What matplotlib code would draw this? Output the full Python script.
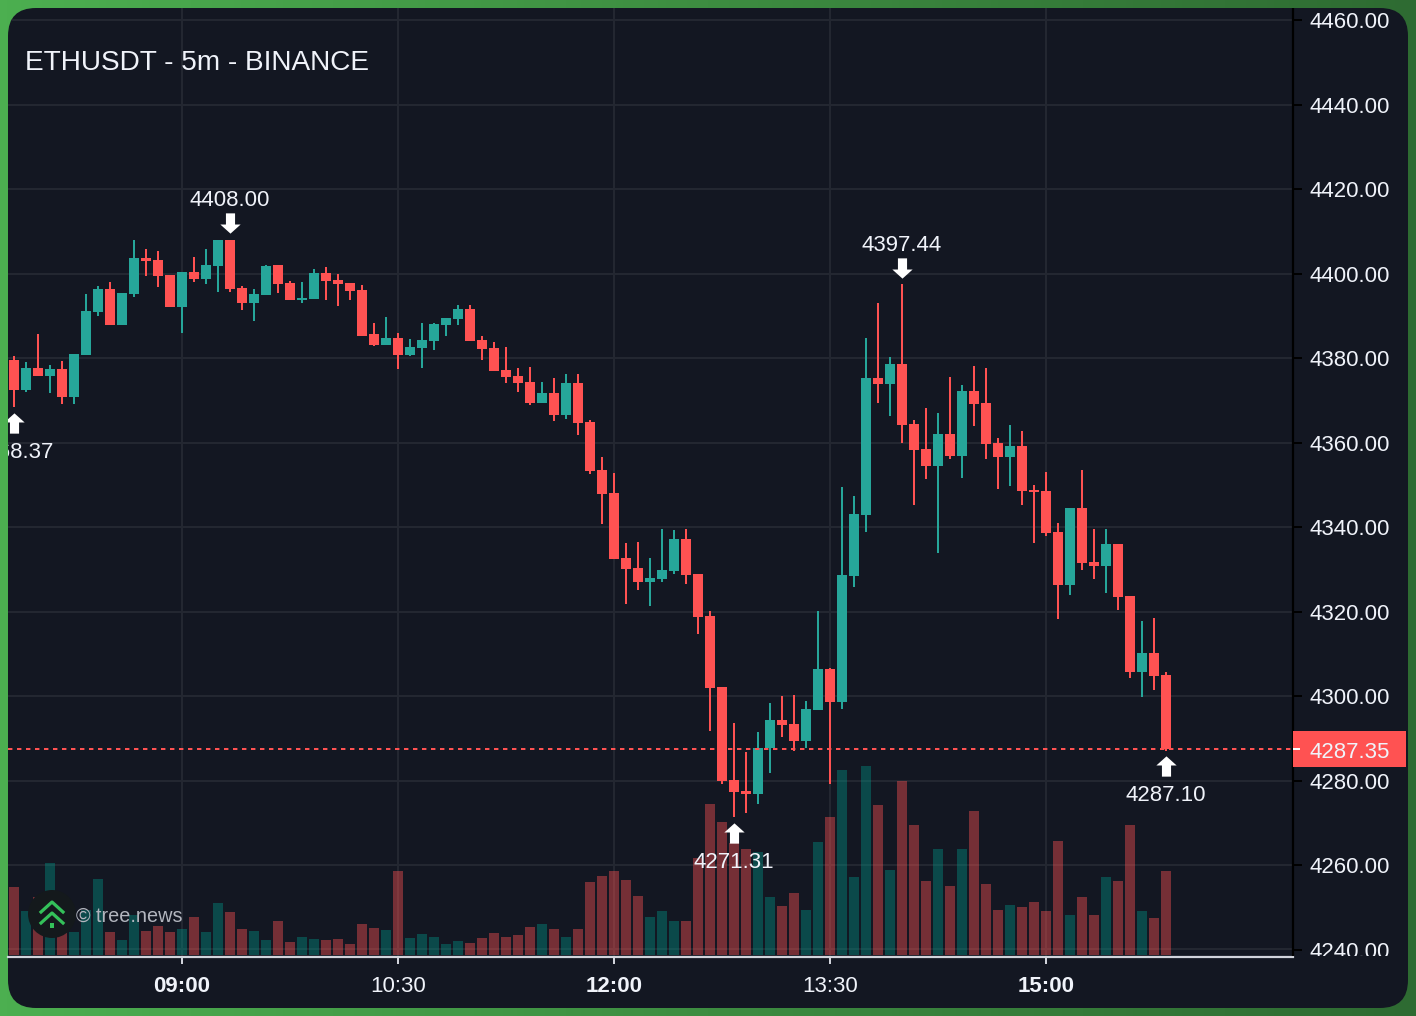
import numpy as np
import matplotlib
matplotlib.use('Agg')
import matplotlib.pyplot as plt
from matplotlib.patches import FancyBboxPatch, Circle, Rectangle
from matplotlib.path import Path
from matplotlib.transforms import Affine2D

plt.rcParams['font.family'] = 'Liberation Sans'

title = 'ETHUSDT - 5m - BINANCE'
watermark = '\u00a9 tree.news'

opens = [4379.5, 4372.4, 4377.6, 4375.7, 4377.4, 4370.8, 4380.7, 4390.9, 4396.3, 4387.8,
         4395.1, 4403.7, 4403.2, 4399.6, 4392.1, 4400.4, 4398.7, 4401.8, 4408.0, 4396.6,
         4393.0, 4394.9, 4402.0, 4397.8, 4393.7, 4394.0, 4400.1, 4398.5, 4397.8, 4396.1,
         4385.7, 4383.1, 4384.7, 4380.7, 4382.4, 4384.0, 4387.8, 4389.2, 4391.6, 4384.3,
         4382.4, 4377.2, 4375.7, 4374.3, 4369.3, 4371.7, 4366.5, 4374.1, 4364.8, 4353.5,
         4348.0, 4332.7, 4330.3, 4327.0, 4327.7, 4329.6, 4337.1, 4328.9, 4318.9, 4302.1,
         4280.1, 4277.5, 4276.8, 4287.7, 4294.3, 4293.4, 4289.4, 4296.7, 4306.4, 4298.6,
         4328.4, 4342.8, 4375.3, 4373.8, 4378.6, 4364.4, 4358.5, 4354.4, 4362.0, 4356.8,
         4372.2, 4369.3, 4359.9, 4356.6, 4359.2, 4348.8, 4348.5, 4338.8, 4326.3, 4344.5,
         4331.7, 4330.8, 4336.0, 4323.7, 4305.7, 4310.2, 4304.9]
closes = [4372.4, 4377.6, 4375.7, 4377.4, 4370.8, 4380.9, 4391.1, 4396.3, 4387.8, 4395.4,
          4403.7, 4403.0, 4399.4, 4392.1, 4400.4, 4398.7, 4402.0, 4407.9, 4396.3, 4393.0,
          4395.1, 4401.8, 4397.5, 4393.7, 4394.2, 4400.1, 4398.2, 4397.5, 4395.9, 4385.2,
          4383.1, 4384.7, 4380.7, 4382.6, 4384.3, 4388.0, 4389.5, 4391.6, 4384.0, 4382.1,
          4376.9, 4375.5, 4374.1, 4369.3, 4371.7, 4366.5, 4374.1, 4364.6, 4353.3, 4347.8,
          4332.4, 4330.1, 4327.0, 4327.9, 4329.8, 4337.1, 4328.6, 4318.7, 4301.9, 4279.9,
          4277.3, 4276.8, 4287.7, 4294.3, 4293.1, 4289.4, 4296.9, 4306.4, 4298.6, 4328.6,
          4343.1, 4375.3, 4373.8, 4378.6, 4364.1, 4358.2, 4354.4, 4362.0, 4356.8, 4372.2,
          4369.1, 4359.6, 4356.6, 4359.2, 4348.5, 4348.3, 4338.6, 4326.3, 4344.5, 4331.5,
          4330.8, 4336.0, 4323.4, 4305.7, 4310.2, 4304.7, 4287.35]
highs = [4380.5, 4379.0, 4385.7, 4378.3, 4379.3, 4380.9, 4395.1, 4397.0, 4398.0, 4395.4,
         4407.9, 4405.8, 4405.3, 4399.6, 4400.4, 4403.9, 4405.8, 4407.9, 4408.0, 4397.0,
         4396.3, 4402.0, 4402.0, 4398.2, 4398.0, 4401.1, 4401.5, 4399.9, 4397.8, 4397.3,
         4388.3, 4389.7, 4385.9, 4384.5, 4388.3, 4388.3, 4389.5, 4392.5, 4392.5, 4385.2,
         4383.8, 4382.6, 4377.6, 4377.9, 4374.3, 4375.3, 4376.2, 4376.2, 4365.3, 4356.6,
         4352.8, 4336.2, 4336.4, 4332.7, 4339.5, 4339.3, 4339.5, 4328.9, 4320.1, 4302.1,
         4293.6, 4286.7, 4291.5, 4298.3, 4300.0, 4300.2, 4298.8, 4320.1, 4306.6, 4349.5,
         4347.3, 4384.7, 4393.0, 4380.2, 4397.44, 4365.3, 4368.2, 4367.0, 4375.5, 4373.6,
         4378.1, 4377.6, 4361.1, 4364.1, 4362.7, 4349.9, 4353.0, 4340.9, 4344.5, 4353.5,
         4339.5, 4339.5, 4336.0, 4323.7, 4317.7, 4318.4, 4305.7]
lows = [4368.37, 4371.9, 4375.7, 4371.7, 4369.1, 4369.1, 4380.7, 4389.9, 4387.8, 4387.8,
        4394.4, 4399.4, 4396.8, 4392.1, 4385.9, 4398.0, 4397.5, 4395.6, 4395.6, 4391.4,
        4388.8, 4394.9, 4395.4, 4393.7, 4393.0, 4394.0, 4393.7, 4392.3, 4393.7, 4385.2,
        4382.8, 4383.1, 4377.4, 4380.5, 4377.6, 4381.9, 4385.2, 4387.8, 4384.0, 4379.5,
        4376.9, 4374.1, 4371.9, 4368.9, 4369.3, 4365.1, 4365.6, 4361.8, 4352.5, 4340.7,
        4332.4, 4321.8, 4325.1, 4321.3, 4327.0, 4328.9, 4326.5, 4314.7, 4291.8, 4279.2,
        4271.31, 4272.3, 4274.4, 4281.8, 4290.3, 4287.0, 4287.7, 4296.7, 4279.2, 4296.9,
        4325.8, 4338.8, 4369.3, 4366.3, 4359.9, 4345.2, 4351.4, 4333.8, 4356.1, 4351.6,
        4363.9, 4356.1, 4349.0, 4349.7, 4345.2, 4336.2, 4337.9, 4318.2, 4323.9, 4329.8,
        4327.7, 4324.4, 4320.4, 4304.3, 4299.8, 4301.4, 4287.1]
volumes = [68, 44, 58, 92, 35, 23, 45, 76, 23, 15, 40, 24, 29, 23, 26, 38, 23, 52, 43, 26,
           24, 15, 34, 13, 18, 16, 15, 16, 11, 31, 27, 25, 84, 17, 21, 18, 11, 14, 12, 17,
           22, 18, 20, 28, 31, 26, 18, 26, 73, 79, 84, 75, 59, 38, 44, 34, 34, 97, 151, 133,
           112, 106, 103, 58, 49, 62, 45, 113, 138, 185, 78, 189, 150, 85, 174, 130, 74, 106,
           69, 106, 144, 71, 45, 50, 48, 53, 44, 114, 40, 58, 40, 78, 74, 130, 44, 37, 84]

price_ticks = [4460, 4440, 4420, 4400, 4380, 4360, 4340, 4320, 4300, 4280, 4260, 4240]
time_idx = [14, 32, 50, 68, 86]
time_labels = ['09:00', '10:30', '12:00', '13:30', '15:00']
time_bold = [True, False, True, False, True]
last_price = 4287.35

# high/low flags: bar index, price, direction (True = arrow above the bar)
flag_idx = [0, 18, 60, 74, 96]
flag_price = [4368.37, 4408.00, 4271.31, 4397.44, 4287.10]
flag_above = [False, True, False, True, False]

UP = '#26a69a'
DOWN = '#ff5252'
PANEL = '#131722'
GRID = '#232731'
TEXT = '#f0f3fa'

W, H = 1416, 1016
LEFT, RIGHT, TOP, BOTTOM = 8, 1293, 8, 957
PX_PER_BAR = 12.0
PX_PER_USD = 4.225


def px_axes(x0, x1, y0, y1, z):
    a = fig.add_axes([x0 / W, 1 - y1 / H, (x1 - x0) / W, (y1 - y0) / H], zorder=z)
    a.patch.set_visible(False)
    return a


fig = plt.figure(figsize=(W / 100, H / 100), dpi=100)

# green backdrop and the rounded dark card
back = px_axes(0, W, 0, H, 0)
back.set_xlim(0, W)
back.set_ylim(H, 0)
back.axis('off')
gx, gy = np.meshgrid(np.linspace(0, 1, 200), np.linspace(0, 1, 200))
t = gx[..., None]
left_col = np.array(matplotlib.colors.to_rgb('#4caf50'))
right_col = np.array(matplotlib.colors.to_rgb('#2e6b32'))
back.imshow(left_col * (1 - t) + right_col * t, extent=(0, W, H, 0), aspect='auto')
r = 28
card = FancyBboxPatch((8 + r, 8 + r), 1400 - 2 * r, 1000 - 2 * r,
                      boxstyle='round,pad=%d,rounding_size=%d' % (r, r),
                      fc=PANEL, ec='none')
back.add_patch(card)

xlim = ((LEFT - 14) / PX_PER_BAR, (RIGHT - 14) / PX_PER_BAR)
ylim = (4460 - (BOTTOM - 20) / PX_PER_USD, 4460 - (TOP - 20) / PX_PER_USD)

# grid sits under the translucent volume bars
ax_grid = px_axes(LEFT, RIGHT, TOP, BOTTOM, 1)
ax_grid.set_xlim(xlim)
ax_grid.set_ylim(ylim)
ax_grid.axis('off')
h = ax_grid.hlines(price_ticks, xlim[0], xlim[1], color=GRID, lw=1.5)
v = ax_grid.vlines(time_idx, ylim[0], ylim[1], color=GRID, lw=1.5)
h.set_clip_path(card)
v.set_clip_path(card)

x = np.arange(len(opens))
opens = np.array(opens)
closes = np.array(closes)
highs = np.array(highs)
lows = np.array(lows)
is_up = closes >= opens

ax_vol = px_axes(LEFT, RIGHT, TOP, BOTTOM, 2)
ax_vol.set_xlim(xlim)
ax_vol.set_ylim(-2, BOTTOM - TOP - 2)
ax_vol.axis('off')
ax_vol.bar(x[is_up], np.array(volumes)[is_up], width=10 / PX_PER_BAR, color='#009688', alpha=0.4, lw=0)
ax_vol.bar(x[~is_up], np.array(volumes)[~is_up], width=10 / PX_PER_BAR, color=DOWN, alpha=0.42, lw=0)

ax = px_axes(LEFT, RIGHT, TOP, BOTTOM, 3)
ax.set_xlim(xlim)
ax.set_ylim(ylim)
colors = [UP if u else DOWN for u in is_up]
ax.vlines(x, lows, highs, colors=colors, lw=1.44, zorder=2)
ax.bar(x, np.abs(closes - opens), bottom=np.minimum(opens, closes), width=10 / PX_PER_BAR,
       color=colors, lw=0, zorder=3)
ax.axhline(last_price, color=DOWN, lw=1.44, ls=(0, (2.2, 2.3)), zorder=4)

for s in ['top', 'left', 'right']:
    ax.spines[s].set_visible(False)
ax.spines['bottom'].set_color('#d1d4dc')
ax.spines['bottom'].set_linewidth(1.6)
ax.set_yticks([])
ax.set_xticks(time_idx)
ax.set_xticklabels(time_labels)
ax.tick_params(axis='x', color='#d1d4dc', width=1.44, length=5, pad=8.8, labelcolor=TEXT, labelsize=16)
for lab, bold in zip(ax.get_xticklabels(), time_bold):
    if bold:
        lab.set_fontweight('bold')

# arrows with the price next to them
up_arrow = Path([(0, 1), (1, 0.1), (0.45, 0.1), (0.45, -1), (-0.45, -1), (-0.45, 0.1), (-1, 0.1), (0, 1)], closed=True)
down_arrow = Path([(0, -1), (1, -0.1), (0.45, -0.1), (0.45, 1), (-0.45, 1), (-0.45, -0.1), (-1, -0.1), (0, -1)], closed=True)
for i, p, above in zip(flag_idx, flag_price, flag_above):
    off = 16.5 if above else -15.5
    shift = ax.transData + Affine2D().translate(0, off)
    ax.plot([i], [p], marker=down_arrow if above else up_arrow, ms=14.6, color='white',
            mec='none', transform=shift, zorder=6)
    ax.annotate('%.2f' % p, (i, p), xytext=(0, 39 if above else -45), textcoords='offset pixels',
                ha='center', va='center', color=TEXT, fontsize=16, clip_on=True, zorder=7)

# price scale on the right, clipped just above the time axis like the original
ax_scale = px_axes(RIGHT, 1408, TOP, BOTTOM - 1, 4)
ax_scale.set_xlim(0, 1408 - RIGHT)
ylim_scale = (4460 - (BOTTOM - 1 - 20) / PX_PER_USD, ylim[1])
ax_scale.set_ylim(ylim_scale)
ax_scale.axis('off')
ax_scale.vlines(0, ylim_scale[0], ylim_scale[1], color='black', lw=1.6, clip_on=False)
ax_scale.hlines(price_ticks, 0, 9, color='black', lw=1.44)
text_drop = 0.3 / PX_PER_USD
for p in price_ticks:
    ax_scale.text(17, p - text_drop, '%.2f' % p, ha='left', va='center_baseline', color=TEXT, fontsize=16, clip_on=True)
ax_scale.add_patch(Rectangle((-1, last_price - 18 / PX_PER_USD), 114, 36 / PX_PER_USD, fc=DOWN, ec='none', zorder=5))
ax_scale.hlines(last_price, -1, 7, color='white', lw=1.44, zorder=6)
ax_scale.text(17, last_price - 0.8 / PX_PER_USD, '%.2f' % last_price, ha='left', va='center_baseline', color=TEXT, fontsize=16, zorder=7)

# title and logo, placed in pixels
over = px_axes(0, W, 0, H, 5)
over.set_xlim(0, W)
over.set_ylim(H, 0)
over.axis('off')
over.text(25, 63, title, ha='left', va='center', color=TEXT, fontsize=20.2)
over.add_patch(Circle((52, 914), 24, fc='#14191c', ec='none'))
over.plot([41, 52, 63], [912, 902, 912], color='#34c15a', lw=2.3)
over.plot([41, 52, 63], [923, 913, 923], color='#34c15a', lw=2.3)
over.add_patch(Rectangle((50, 923), 4, 5, fc='#34c15a', ec='none'))
over.text(76, 916, watermark, ha='left', va='center', color='#b2b5be', fontsize=14.3)

fig.savefig('out.png', dpi=100)
plt.close(fig)
